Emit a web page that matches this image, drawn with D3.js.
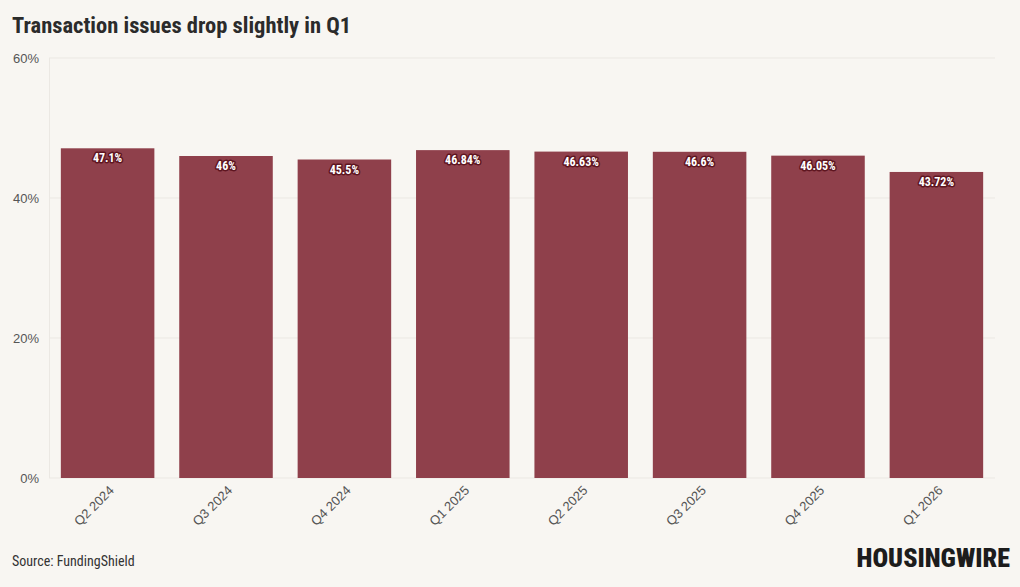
<!DOCTYPE html>
<html><head><meta charset="utf-8">
<script src="https://cdn.jsdelivr.net/npm/d3@7"></script>
<style>
body{margin:0;background:#f8f6f2;}
svg{display:block;font-family:"Roboto Condensed","Liberation Sans Narrow",Roboto,sans-serif;}
</style></head><body>
<svg id="c" width="1020" height="587"></svg>
<script>
const categories = ["Q2 2024","Q3 2024","Q4 2024","Q1 2025","Q2 2025","Q3 2025","Q4 2025","Q1 2026"];
const values = [47.1,46,45.5,46.84,46.63,46.6,46.05,43.72];
const labels = ["47.1%","46%","45.5%","46.84%","46.63%","46.6%","46.05%","43.72%"];
const yTicks = [0,20,40,60];

const svg = d3.select("#c");
svg.append("rect").attr("width",1020).attr("height",587).attr("fill","#f8f6f2");
const pL=49,pR=995,pT=58,pB=478;
const x=d3.scaleBand().domain(categories).range([pL,pR]).paddingInner(0.21).paddingOuter(0.1);
const y=d3.scaleLinear().domain([0,60]).range([pB,pT]);

svg.append("g").selectAll("line").data(yTicks).join("line")
 .attr("x1",pL).attr("x2",pR).attr("y1",d=>y(d)).attr("y2",d=>y(d))
 .attr("stroke","#ebe8e3").attr("stroke-width",1);
svg.append("line").attr("x1",pL+0.5).attr("x2",pL+0.5).attr("y1",pT).attr("y2",pB).attr("stroke","#ebe8e3");

const ya=svg.append("g").attr("transform",`translate(${pL},0)`)
 .call(d3.axisLeft(y).tickValues(yTicks).tickFormat(d=>d+"%").tickSize(0).tickPadding(10));
ya.select(".domain").remove();
ya.selectAll("text").attr("fill","#555").attr("font-size",13);

svg.append("g").selectAll("rect").data(values).join("rect")
 .attr("x",(d,i)=>x(categories[i])).attr("width",x.bandwidth())
 .attr("y",d=>y(d)).attr("height",d=>pB-y(d)).attr("fill","#8f404b");

const lg=svg.append("g");
lg.selectAll("text.h").data(values).join("text").attr("class","h")
 .attr("x",(d,i)=>x(categories[i])+x.bandwidth()/2).attr("y",d=>y(d)+14)
 .attr("text-anchor","middle").attr("font-size",12).attr("font-weight","bold")
 .attr("stroke","#5e1520").attr("stroke-width",3).attr("stroke-linejoin","round").attr("fill","#5e1520")
 .text((d,i)=>labels[i]);
lg.selectAll("text.f").data(values).join("text").attr("class","f")
 .attr("x",(d,i)=>x(categories[i])+x.bandwidth()/2).attr("y",d=>y(d)+14)
 .attr("text-anchor","middle").attr("font-size",12).attr("font-weight","bold").attr("fill","#fff")
 .text((d,i)=>labels[i]);

const xa=svg.append("g").attr("transform",`translate(0,${pB})`)
 .call(d3.axisBottom(x).tickSize(0).tickPadding(0));
xa.select(".domain").remove();
xa.selectAll("text").attr("fill","#555").attr("font-size",13)
 .attr("text-anchor","end").attr("dy","0.35em")
 .attr("transform","translate(4,10) rotate(-45)");

svg.append("text").attr("x",12).attr("y",33).attr("font-size",22.5).attr("font-weight","bold").attr("fill","#2b2b2b")
 .text("Transaction issues drop slightly in Q1");
svg.append("text").attr("x",12).attr("y",566).attr("font-size",14).attr("fill","#333").text("Source: FundingShield");
svg.append("text").attr("x",1010).attr("y",567).attr("text-anchor","end").attr("font-size",26)
 .attr("font-weight",900).attr("fill","#1c1c1c")
 .text("HOUSINGWIRE");
</script></body></html>
